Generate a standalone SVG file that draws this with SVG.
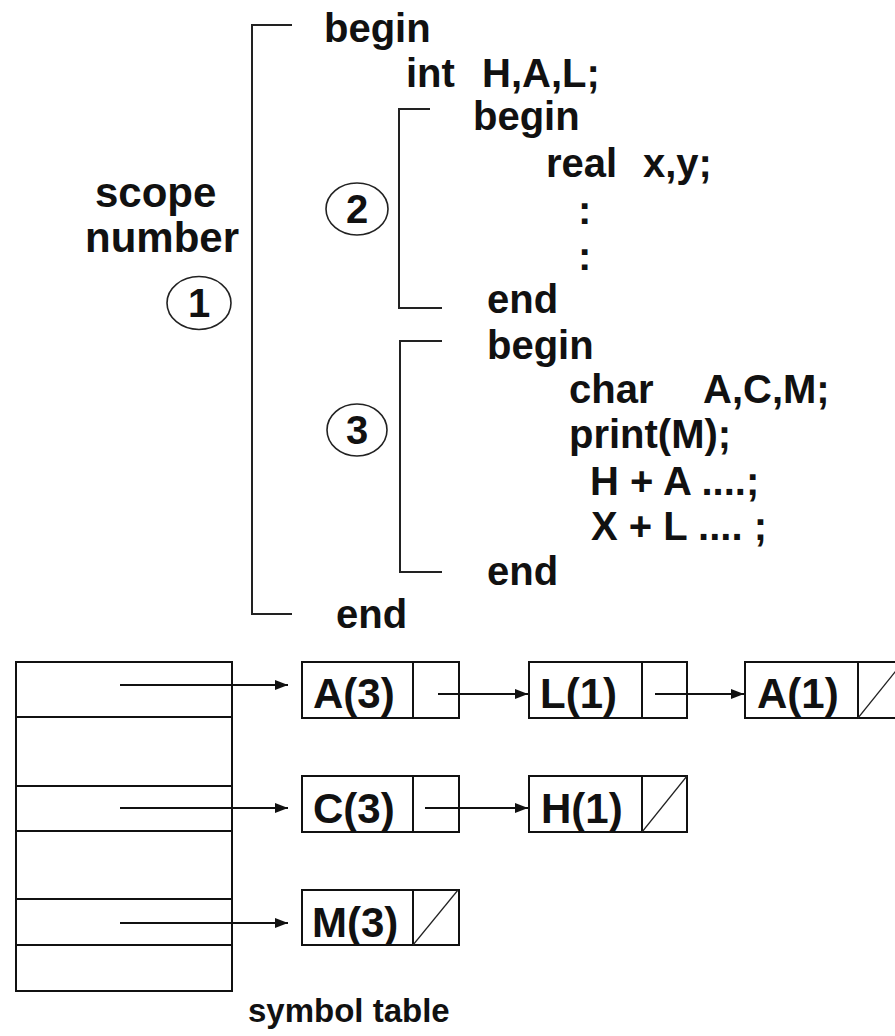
<svg xmlns="http://www.w3.org/2000/svg" width="895" height="1036" viewBox="0 0 895 1036">
<style>
  text { font-family: "Liberation Sans", Arial, sans-serif; font-weight: bold; fill: #111; }
  .code { font-size: 40px; }
  .big { font-size: 42px; }
  .lbl { font-size: 42px; }
  .num { font-size: 40px; }
  .cap { font-size: 33px; }
  .br { fill: none; stroke: #222; stroke-width: 2; }
  .circ { fill: none; stroke: #222; stroke-width: 1.6; }
  .box { fill: #fff; stroke: #111; stroke-width: 2; }
  .div { stroke: #111; stroke-width: 2; }
  .nil { stroke: #222; stroke-width: 1.2; }
  .arr { stroke: #111; stroke-width: 2; fill: none; marker-end: url(#ah); }
</style>
<defs>
  <marker id="ah" markerUnits="userSpaceOnUse" markerWidth="15" markerHeight="11" refX="13" refY="5.5" orient="auto">
    <path d="M0,0.5 L13,5.5 L0,10.5 z" fill="#111"/>
  </marker>
</defs>
<rect width="895" height="1036" fill="#fff"/>

<g id="scope-label">
  <text class="big" x="95" y="207">scope</text>
  <text class="big" x="85" y="252">number</text>
</g>

<g id="brackets">
  <path class="br" d="M292,25 H252 V614 H292"/>
  <path class="br" d="M430,109 H399 V308 H442"/>
  <path class="br" d="M442,341 H400 V572 H442"/>
</g>

<g id="scope1">
  <ellipse class="circ" cx="199" cy="303" rx="32" ry="26.5"/>
  <text class="num" x="199" y="317" text-anchor="middle">1</text>
</g>
<g id="scope2">
  <ellipse class="circ" cx="357" cy="209" rx="31" ry="26"/>
  <text class="num" x="357" y="223" text-anchor="middle">2</text>
</g>
<g id="scope3">
  <ellipse class="circ" cx="357" cy="430" rx="30" ry="26"/>
  <text class="num" x="357" y="444" text-anchor="middle">3</text>
</g>

<g id="code">
  <text class="code" x="324" y="42">begin</text>
  <text class="code" y="87"><tspan x="406">int</tspan><tspan x="482">H,A,L;</tspan></text>
  <text class="code" x="473" y="130">begin</text>
  <text class="code" y="177"><tspan x="546">real</tspan><tspan x="643">x,y;</tspan></text>
  <text class="code" x="578" y="224">:</text>
  <text class="code" x="578" y="270">:</text>
  <text class="code" x="487" y="313">end</text>
  <text class="code" x="487" y="359">begin</text>
  <text class="code" y="403"><tspan x="569">char</tspan><tspan x="703">A,C,M;</tspan></text>
  <text class="code" x="569" y="448">print(M);</text>
  <text class="code" x="590" y="495" xml:space="preserve">H + A ....;</text>
  <text class="code" x="591" y="540" xml:space="preserve">X + L .... ;</text>
  <text class="code" x="487" y="585">end</text>
  <text class="code" x="336" y="628">end</text>
</g>

<g id="symbol-table">
  <rect class="box" x="16" y="662" width="216" height="329"/>
  <line class="div" x1="16" y1="717" x2="232" y2="717"/>
  <line class="div" x1="16" y1="786" x2="232" y2="786"/>
  <line class="div" x1="16" y1="831" x2="232" y2="831"/>
  <line class="div" x1="16" y1="899" x2="232" y2="899"/>
  <line class="div" x1="16" y1="945" x2="232" y2="945"/>
  <text class="cap" x="248" y="1022">symbol table</text>
</g>

<g id="node-A3">
  <rect class="box" x="302" y="662" width="157" height="56"/>
  <line class="div" x1="413" y1="662" x2="413" y2="718"/>
  <text class="lbl" x="313" y="708">A(3)</text>
</g>
<g id="node-L1">
  <rect class="box" x="529" y="662" width="158" height="56"/>
  <line class="div" x1="642" y1="662" x2="642" y2="718"/>
  <text class="lbl" x="540" y="708">L(1)</text>
</g>
<g id="node-A1">
  <rect class="box" x="745" y="662" width="158" height="56"/>
  <line class="div" x1="858" y1="662" x2="858" y2="718"/>
  <line class="nil" x1="858" y1="718" x2="903" y2="662"/>
  <text class="lbl" x="757" y="708">A(1)</text>
</g>
<g id="node-C3">
  <rect class="box" x="302" y="776" width="157" height="56"/>
  <line class="div" x1="413" y1="776" x2="413" y2="832"/>
  <text class="lbl" x="313" y="823">C(3)</text>
</g>
<g id="node-H1">
  <rect class="box" x="529" y="776" width="158" height="56"/>
  <line class="div" x1="642" y1="776" x2="642" y2="832"/>
  <line class="nil" x1="642" y1="832" x2="687" y2="776"/>
  <text class="lbl" x="541" y="823">H(1)</text>
</g>
<g id="node-M3">
  <rect class="box" x="302" y="890" width="157" height="55"/>
  <line class="div" x1="413" y1="890" x2="413" y2="945"/>
  <line class="nil" x1="413" y1="945" x2="458" y2="890"/>
  <text class="lbl" x="312" y="937">M(3)</text>
</g>

<g id="connectors">
  <line class="arr" x1="120" y1="685" x2="288" y2="685"/>
  <line class="arr" x1="120" y1="808" x2="288" y2="808"/>
  <line class="arr" x1="120" y1="923" x2="288" y2="923"/>
  <line class="arr" x1="438" y1="694" x2="528" y2="694"/>
  <line class="arr" x1="655" y1="694" x2="744" y2="694"/>
  <line class="arr" x1="425" y1="808" x2="528" y2="808"/>
</g>
</svg>
